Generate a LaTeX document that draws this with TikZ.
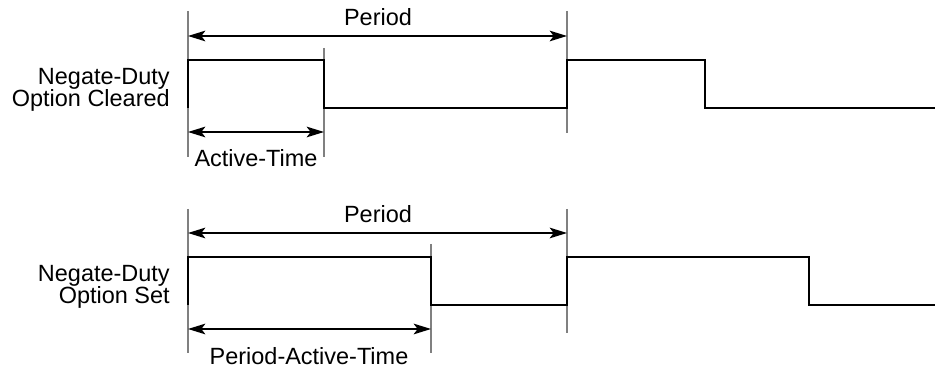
\documentclass[tikz,border=0pt]{standalone}
\usepackage{fontspec}
\setmainfont{Liberation Sans}
\usetikzlibrary{arrows.meta}

\tikzset{
  wave/.style={line width=1.3pt, line join=miter},
  tickline/.style={black!50, line width=0.8pt},
  span/.style={line width=1.2pt,
    {Stealth[length=13pt,width=8pt,inset=3pt]}-{Stealth[length=13pt,width=8pt,inset=3pt]}},
  lbl/.style={font=\fontsize{17.6}{16.5}\selectfont, inner sep=0pt}
}

\begin{document}
\begin{tikzpicture}[x=0.75pt,y=-0.75pt]
            \useasboundingbox (0,0) rectangle (935,373);
            % negate-duty option cleared
            \node [lbl, align=right, anchor=east] (clrname) at (170,90) {Negate-Duty\\Option Cleared};
            \draw [tickline] (188,11) -- (188,157);
            \draw [tickline] (324,48) -- (324,157);
            \draw [tickline] (567,11) -- (567,133);
            \draw [wave] (188,108) -- (188,60) -- (324,60) -- (324,108) -- (567,108)
                -- (567,60) -- (705,60) -- (705,108) -- (935,108);
            \coordinate (clrpa) at (188,36);
            \coordinate (clrpb) at (567,36);
            \coordinate (clrta) at (188,132);
            \coordinate (clrtb) at (324,132);
            \draw [span] (clrpa) -- (clrpb);
            \node [lbl, anchor=base] (clrperiod) at (378,26) {Period};
            \draw [span] (clrta) -- (clrtb);
            \node [lbl, anchor=base] (clractive) at (256,167) {Active-Time};
            % negate-duty option set
            \node [lbl, align=right, anchor=east] (setname) at (170,287) {Negate-Duty\\Option Set};
            \draw [tickline] (188,209) -- (188,353);
            \draw [tickline] (431,244) -- (431,353);
            \draw [tickline] (567,209) -- (567,333);
            \draw [wave] (188,305) -- (188,257) -- (431,257) -- (431,305) -- (567,305)
                -- (567,257) -- (809,257) -- (809,305) -- (935,305);
            \coordinate (setpa) at (188,233);
            \coordinate (setpb) at (567,233);
            \coordinate (setta) at (188,329);
            \coordinate (settb) at (431,329);
            \draw [span] (setpa) -- (setpb);
            \node [lbl, anchor=base] (setperiod) at (378,223) {Period};
            \draw [span] (setta) -- (settb);
            \node [lbl, anchor=base] (setactive) at (309,365) {Period-Active-Time};
\end{tikzpicture}
\end{document}
